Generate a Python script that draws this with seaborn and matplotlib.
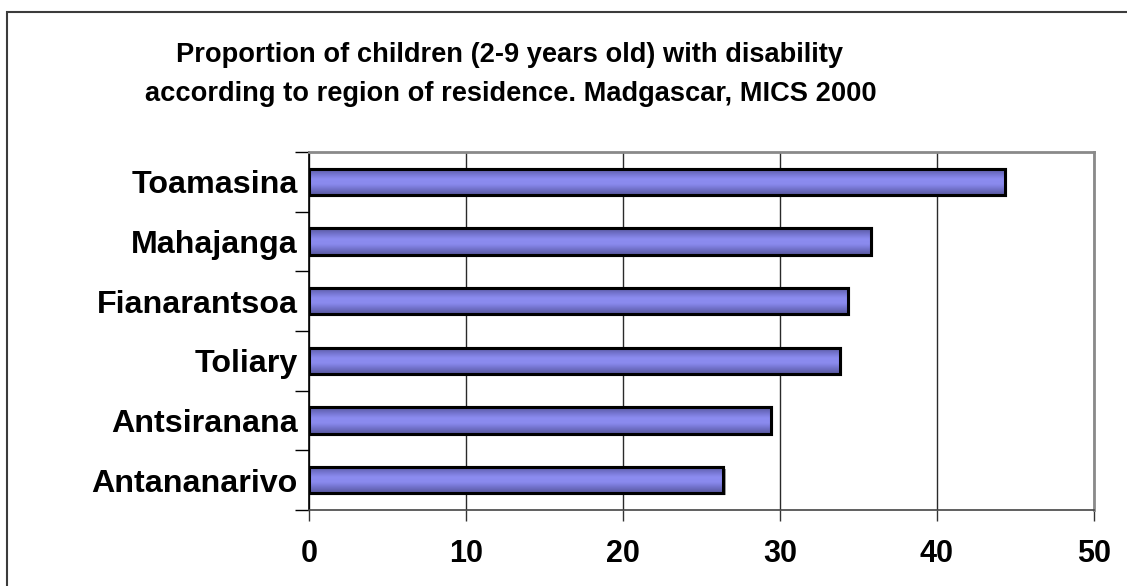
import numpy as np
import pandas as pd
import matplotlib
matplotlib.use("Agg")
import matplotlib.pyplot as plt
import matplotlib.patheffects as pe
from matplotlib.colors import LinearSegmentedColormap
from matplotlib.patches import Rectangle
import seaborn as sns

# Regions and the share of children (%) with a disability
regions = ["Toamasina", "Mahajanga", "Fianarantsoa", "Toliary", "Antsiranana", "Antananarivo"]
values = [44.3, 35.8, 34.3, 33.8, 29.4, 26.4]
x_ticks = [0, 10, 20, 30, 40, 50]
title_lines = ["Proportion of children (2-9 years old) with disability",
               "according to region of residence. Madgascar, MICS 2000"]

sns.set_theme(style="white")
plt.rcParams["font.family"] = ["Liberation Sans", "DejaVu Sans"]
plt.rcParams["font.weight"] = "bold"

W, H = 1127, 586
fig = plt.figure(figsize=(W / 100, H / 100), dpi=100, facecolor="white")
ax = fig.add_axes([309 / W, 1 - 510 / H, (1094 - 309) / W, (510 - 152) / H])

df = pd.DataFrame({"region": regions, "value": values})
sns.barplot(data=df, x="value", y="region", order=regions, orient="h",
            color="#8080e0", width=0.44, saturation=1, ax=ax, zorder=2)

ax.set_xlim(0, 50)
ax.set_ylim(len(regions) - 0.5, -0.5)
ax.set_xlabel("")
ax.set_ylabel("")

# Bars: vertical purple gradient, black outline and a soft grey shadow
cmap = LinearSegmentedColormap.from_list(
    "barshade", ["#58589e", "#7272cc", "#8c8cf0", "#8a8aee", "#7070c8", "#58589e"])
grad = np.linspace(0, 1, 64).reshape(-1, 1)
for p in list(ax.patches):
    x0, y0 = p.get_x(), p.get_y()
    w, h = p.get_width(), p.get_height()
    p.set_edgecolor("black")
    p.set_linewidth(2.2)
    p.set_path_effects([pe.SimplePatchShadow(offset=(1.5, -1.5), shadow_rgbFace="#9a9a9a", alpha=0.9),
                        pe.Normal()])
    im = ax.imshow(grad, cmap=cmap, aspect="auto", extent=[x0, x0 + w, y0 + h, y0],
                   zorder=2.2, interpolation="bicubic")
    im.set_clip_path(p)
    ax.add_patch(Rectangle((x0, y0), w, h, fill=False, edgecolor="black",
                           linewidth=2.2, zorder=2.4))
ax.set_xlim(0, 50)
ax.set_ylim(len(regions) - 0.5, -0.5)

# Vertical grid
ax.set_xticks(x_ticks)
ax.set_xticklabels([str(t) for t in x_ticks], fontsize=22, fontweight="bold")
ax.xaxis.grid(True, color="#2a2a2a", linewidth=1.0, zorder=0)
ax.yaxis.grid(False)
ax.set_axisbelow(True)

# Category ticks sit between the bars
ax.set_yticks(range(len(regions)))
ax.set_yticklabels(regions, fontsize=23.2, fontweight="bold")
ax.set_yticks(np.arange(-0.5, len(regions), 1.0), minor=True)
ax.tick_params(axis="y", which="major", length=0, pad=8, colors="black")
ax.tick_params(axis="y", which="minor", left=True, length=10, width=1, color="black")
ax.tick_params(axis="x", which="major", bottom=True, length=8, width=1, color="#333333",
               pad=13, labelcolor="black")

for side in ["top", "right"]:
    ax.spines[side].set_visible(True)
    ax.spines[side].set_color("#8a8a8a")
    ax.spines[side].set_linewidth(2)
ax.spines["left"].set_color("black")
ax.spines["left"].set_linewidth(1.2)
ax.spines["bottom"].set_color("#444444")
ax.spines["bottom"].set_linewidth(1.2)

# Title
fig.text(510 / W, 1 - 62 / H, title_lines[0], ha="center", va="baseline",
         fontsize=19.6, fontweight="bold", color="black")
fig.text(511 / W, 1 - 101 / H, title_lines[1], ha="center", va="baseline",
         fontsize=19.6, fontweight="bold", color="black")

# Chart frame
fig.add_artist(Rectangle((7 / W, -0.2), 1.2, 1 - 12 / H + 0.2, transform=fig.transFigure,
                         fill=False, edgecolor="#3c3c3c", linewidth=1.5, clip_on=False))

fig.savefig("out.png", dpi=100, facecolor="white")
